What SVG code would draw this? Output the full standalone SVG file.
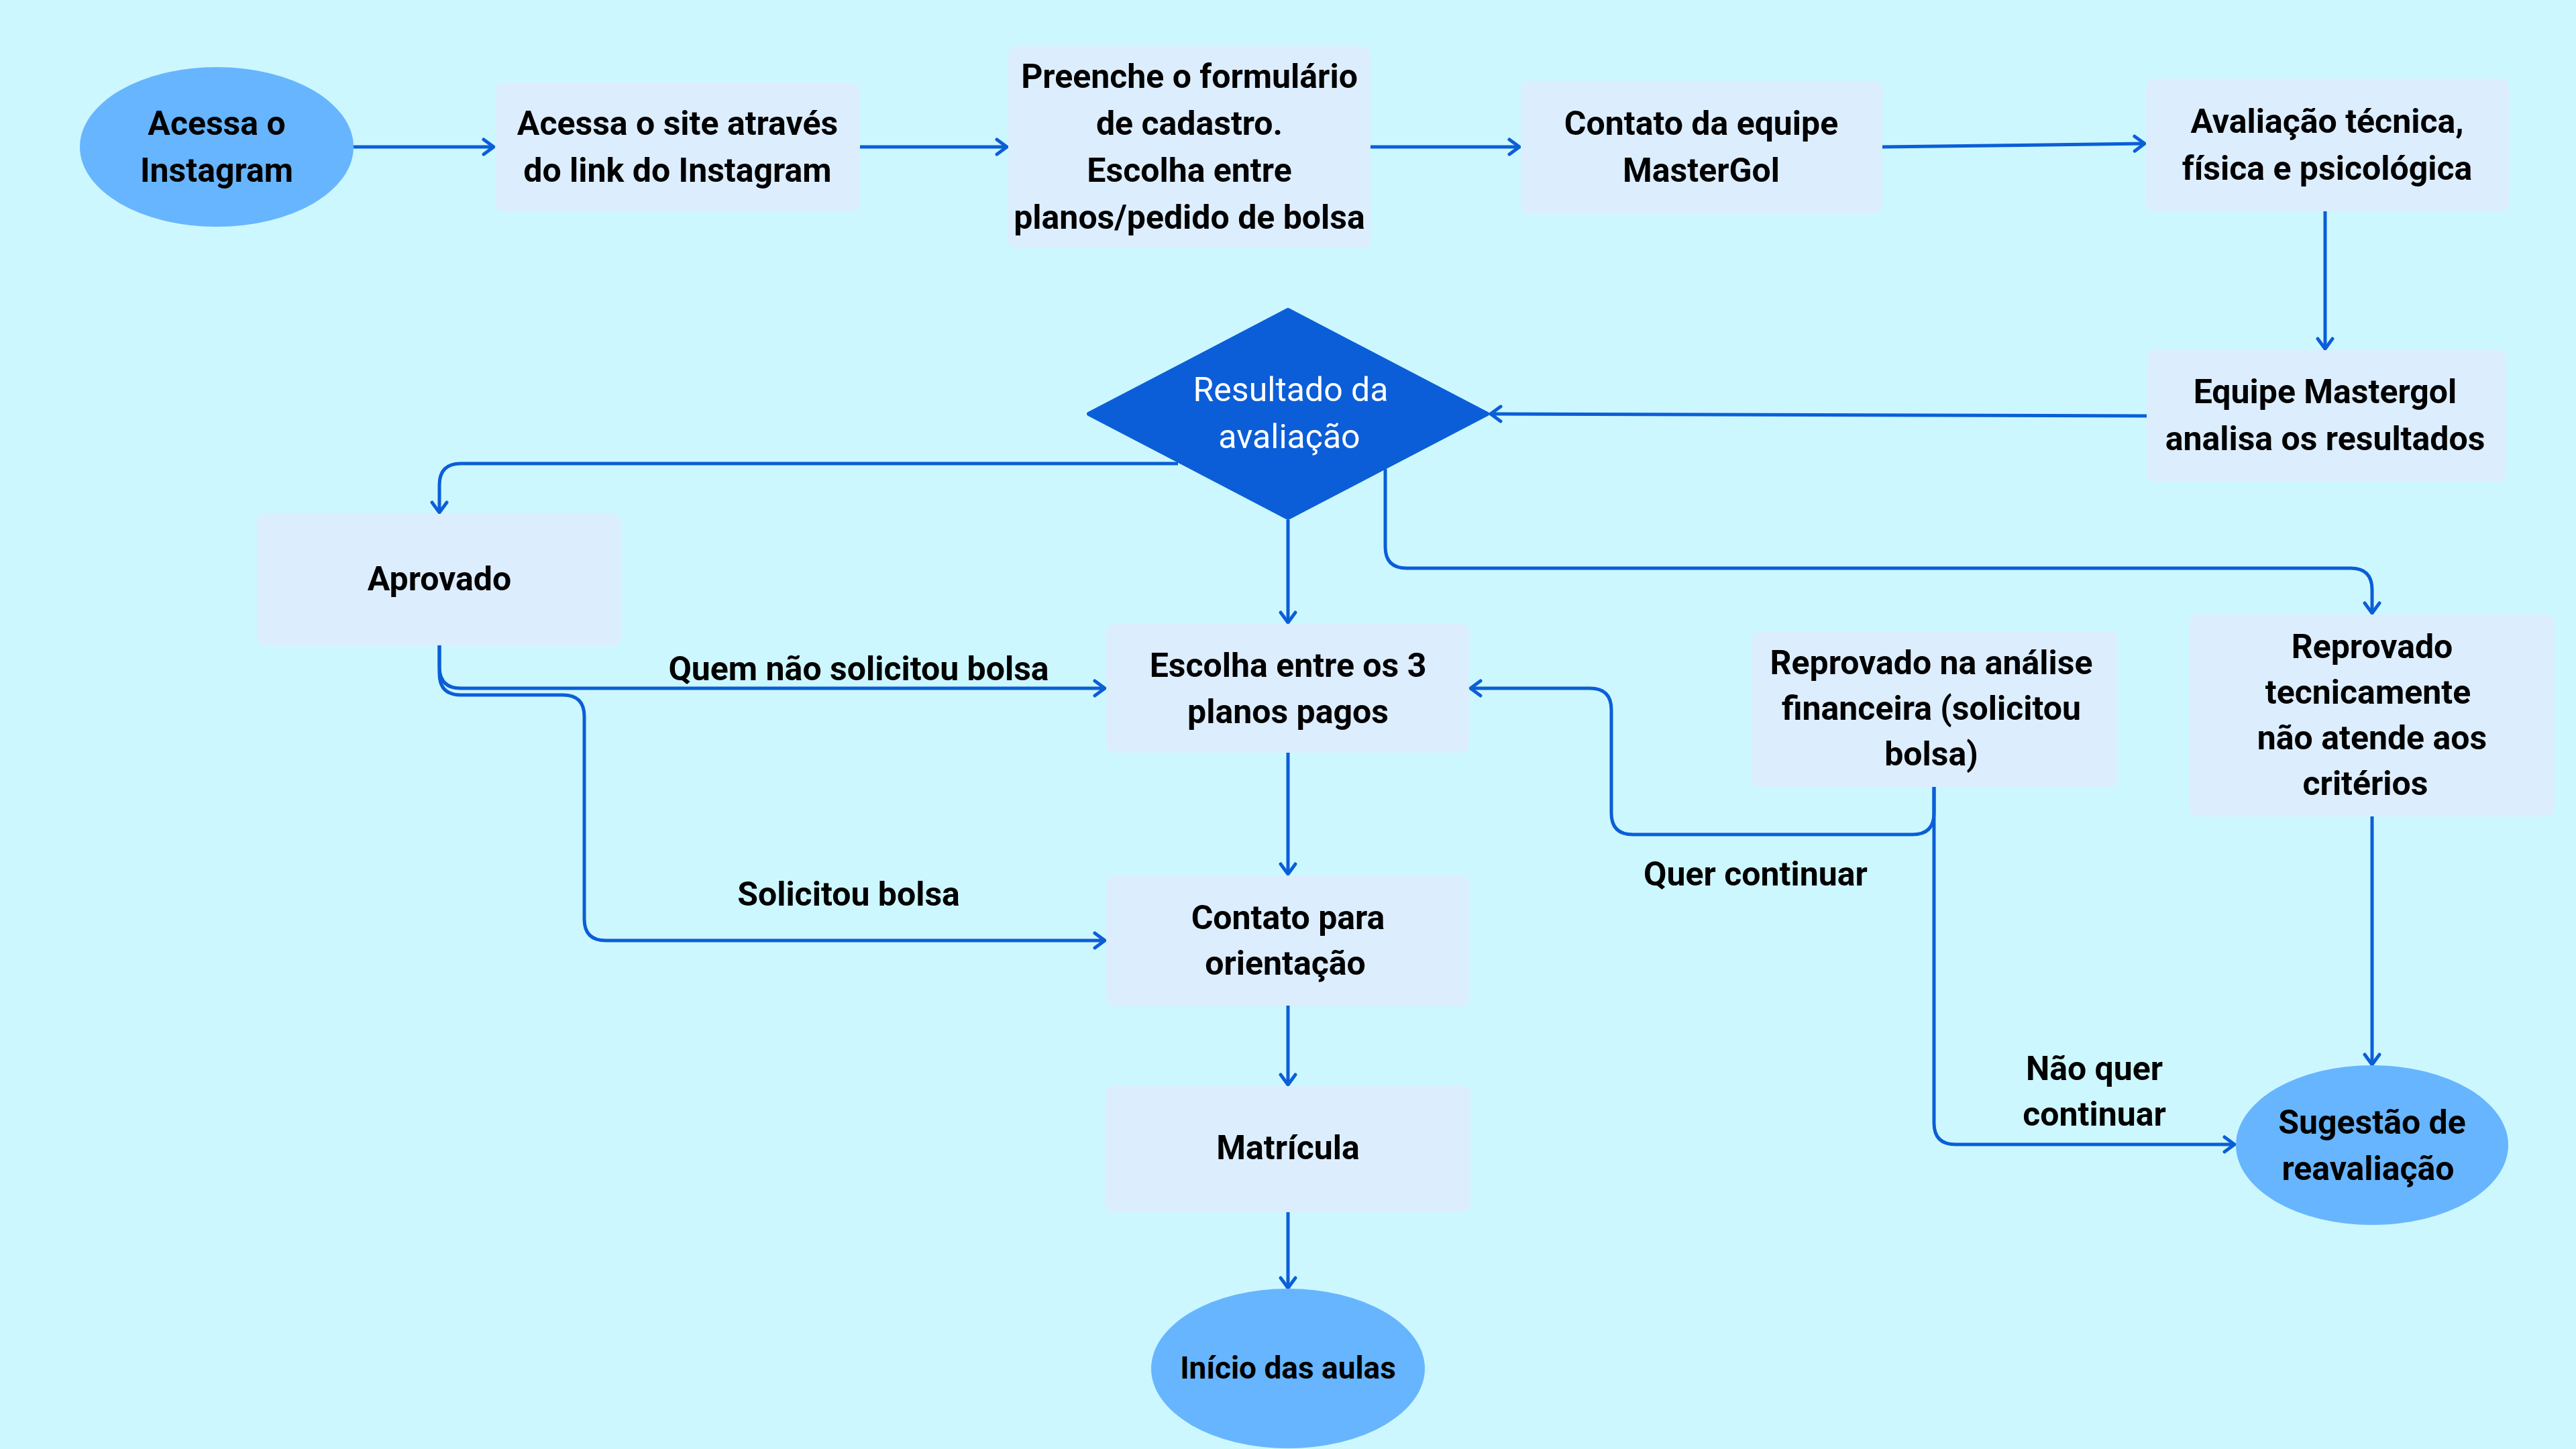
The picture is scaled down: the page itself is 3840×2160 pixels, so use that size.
<svg xmlns="http://www.w3.org/2000/svg" width="3840" height="2160" viewBox="0 0 3840 2160">
<defs>
<marker id="arr" viewBox="-20 -14 24 28" refX="0" refY="0" markerWidth="24" markerHeight="28" markerUnits="userSpaceOnUse" orient="auto">
<path d="M-15,-11 L0,0 L-15,11" fill="none" stroke="#0B5ED7" stroke-width="5" stroke-linecap="round" stroke-linejoin="round"/>
</marker>
</defs>
<style>
.box{fill:#DCEDFE}
.ell{fill:#67B5FE}
.t{font-family:Roboto,"Liberation Sans",sans-serif;font-weight:bold;font-size:50px;fill:#000;text-anchor:middle;dominant-baseline:central}
.tw{font-family:Roboto,"Liberation Sans",sans-serif;font-weight:normal;font-size:50px;fill:#fff;text-anchor:middle;dominant-baseline:central}
.c{fill:none;stroke:#0B5ED7;stroke-width:5;marker-end:url(#arr)}
</style>
<rect width="3840" height="2160" fill="#CDF7FF"/>
<g id="connectors">
<path class="c" d="M527,219 H736"/>
<path class="c" d="M1282,219 H1501"/>
<path class="c" d="M2043,219 H2265"/>
<path class="c" d="M2806,219 L3197,214"/>
<path class="c" d="M3466,315 V520"/>
<path class="c" d="M3200,620 L2222,617"/>
<path class="c" d="M1756,691 H687 Q655,691 655,723 V764"/>
<path class="c" d="M1920,775 V928"/>
<path class="c" d="M2065,699 V815 Q2065,847 2097,847 H3504 Q3536,847 3536,879 V914"/>
<path class="c" d="M655,962 V994 Q655,1026 687,1026 H1647"/>
<path class="c" d="M655,962 V1004 Q655,1036 687,1036 H839 Q871,1036 871,1068 V1370 Q871,1402 903,1402 H1647"/>
<path class="c" d="M1920,1122 V1303"/>
<path class="c" d="M1920,1499 V1617"/>
<path class="c" d="M1920,1807 V1920"/>
<path class="c" d="M2883,1173 V1212 Q2883,1244 2851,1244 H2434 Q2402,1244 2402,1212 V1058 Q2402,1026 2370,1026 H2192"/>
<path class="c" d="M2883,1173 V1674 Q2883,1706 2915,1706 H3331"/>
<path class="c" d="M3536,1217 V1587"/>
<text class="t" x="1280" y="997">Quem não solicitou bolsa</text>
<text class="t" x="1265" y="1333">Solicitou bolsa</text>
<text class="t" x="2617" y="1303">Quer continuar</text>
<text class="t" x="3122" y="1593">Não quer</text>
<text class="t" x="3122" y="1661">continuar</text>
</g>
<g id="n1">
<ellipse class="ell" cx="323" cy="219" rx="204" ry="119"/>
<text class="t" x="323" y="184">Acessa o</text>
<text class="t" x="323" y="254">Instagram</text>
</g>
<g id="n2">
<rect class="box" x="738" y="123" width="544" height="193" rx="12"/>
<text class="t" x="1010" y="184">Acessa o site através</text>
<text class="t" x="1010" y="254">do link do Instagram</text>
</g>
<g id="n3">
<rect class="box" x="1503" y="69" width="540" height="301" rx="12"/>
<text class="t" x="1773" y="114">Preenche o formulário</text>
<text class="t" x="1773" y="184">de cadastro.</text>
<text class="t" x="1773" y="254">Escolha entre</text>
<text class="t" x="1773" y="324">planos/pedido de bolsa</text>
</g>
<g id="n4">
<rect class="box" x="2267" y="121" width="539" height="197" rx="12"/>
<text class="t" x="2536" y="184">Contato da equipe</text>
<text class="t" x="2536" y="254">MasterGol</text>
</g>
<g id="n5">
<rect class="box" x="3199" y="117" width="541" height="198" rx="12"/>
<text class="t" x="3469" y="181">Avaliação técnica,</text>
<text class="t" x="3469" y="251">física e psicológica</text>
</g>
<g id="n6">
<rect class="box" x="3200" y="522" width="536" height="196" rx="12"/>
<text class="t" x="3466" y="584">Equipe Mastergol</text>
<text class="t" x="3466" y="654">analisa os resultados</text>
</g>
<g id="n7">
<path d="M1920,462 L2217,617 L1920,772 L1623,617 Z" fill="#0B5ED7" stroke="#0B5ED7" stroke-width="6" stroke-linejoin="round"/>
<text class="tw" x="1924" y="581">Resultado da</text>
<text class="tw" x="1922" y="651">avaliação</text>
</g>
<g id="n8">
<rect class="box" x="383" y="766" width="543" height="196" rx="12"/>
<text class="t" x="655" y="863">Aprovado</text>
</g>
<g id="n9">
<rect class="box" x="1649" y="930" width="541" height="192" rx="12"/>
<text class="t" x="1920" y="992">Escolha entre os 3</text>
<text class="t" x="1920" y="1061">planos pagos</text>
</g>
<g id="n10">
<rect class="box" x="1649" y="1305" width="541" height="194" rx="12"/>
<text class="t" x="1920" y="1368">Contato para</text>
<text class="t" x="1916" y="1436">orientação</text>
</g>
<g id="n11">
<rect class="box" x="1648" y="1619" width="544" height="188" rx="12"/>
<text class="t" x="1920" y="1711">Matrícula</text>
</g>
<g id="n12">
<ellipse class="ell" cx="1920" cy="2040" rx="204" ry="119"/>
<text class="t" x="1920" y="2039" style="font-size:46px">Início das aulas</text>
</g>
<g id="n13">
<rect class="box" x="2611" y="941" width="545" height="232" rx="12"/>
<text class="t" x="2879" y="988">Reprovado na análise</text>
<text class="t" x="2879" y="1056">financeira (solicitou</text>
<text class="t" x="2879" y="1124">bolsa)</text>
</g>
<g id="n14">
<rect class="box" x="3264" y="916" width="544" height="301" rx="12"/>
<text class="t" x="3536" y="964">Reprovado</text>
<text class="t" x="3530" y="1032">tecnicamente</text>
<text class="t" x="3536" y="1100">não atende aos</text>
<text class="t" x="3526" y="1168">critérios</text>
</g>
<g id="n15">
<ellipse class="ell" cx="3536" cy="1707" rx="203" ry="119"/>
<text class="t" x="3536" y="1673">Sugestão de</text>
<text class="t" x="3530" y="1742">reavaliação</text>
</g>
</svg>
